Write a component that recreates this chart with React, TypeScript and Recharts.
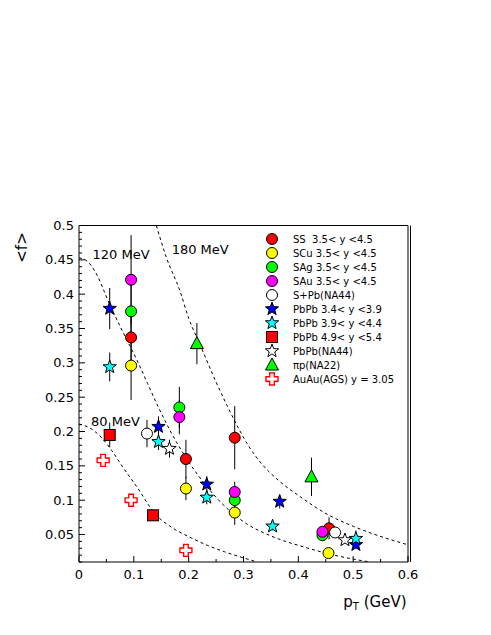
import { ComposedChart, Scatter, Line, XAxis, YAxis, ErrorBar, ReferenceLine, ReferenceDot, Legend } from 'recharts'

type Pt = { x: number; y: number; e: number }

// measured points (pT in GeV, <f>, error)
const SS: Pt[] = [
  { x: 0.095, y: 0.337, e: 0.04 }, { x: 0.195, y: 0.16, e: 0.028 },
  { x: 0.284, y: 0.191, e: 0.046 }, { x: 0.456, y: 0.059, e: 0.016 },
]
const SCU: Pt[] = [
  { x: 0.095, y: 0.296, e: 0.05 }, { x: 0.195, y: 0.117, e: 0.017 },
  { x: 0.284, y: 0.082, e: 0.018 }, { x: 0.455, y: 0.023, e: 0.005 },
]
const SAG: Pt[] = [
  { x: 0.095, y: 0.375, e: 0.04 }, { x: 0.183, y: 0.235, e: 0.03 },
  { x: 0.284, y: 0.1, e: 0.015 }, { x: 0.444, y: 0.049, e: 0.008 },
]
const SAU: Pt[] = [
  { x: 0.095, y: 0.421, e: 0.065 }, { x: 0.183, y: 0.221, e: 0.025 },
  { x: 0.284, y: 0.112, e: 0.015 }, { x: 0.444, y: 0.054, e: 0.008 },
]
const SPB: Pt[] = [{ x: 0.124, y: 0.197, e: 0.02 }, { x: 0.467, y: 0.053, e: 0.006 }]
const PB34: Pt[] = [
  { x: 0.056, y: 0.379, e: 0.03 }, { x: 0.145, y: 0.207, e: 0.015 },
  { x: 0.233, y: 0.123, e: 0.012 }, { x: 0.366, y: 0.098, e: 0.01 },
  { x: 0.505, y: 0.035, e: 0.006 },
]
const PB39: Pt[] = [
  { x: 0.056, y: 0.294, e: 0.021 }, { x: 0.145, y: 0.185, e: 0.012 },
  { x: 0.233, y: 0.104, e: 0.01 }, { x: 0.353, y: 0.062, e: 0.006 },
  { x: 0.505, y: 0.044, e: 0.012 },
]
const PB49: Pt[] = [{ x: 0.056, y: 0.195, e: 0.018 }, { x: 0.135, y: 0.078, e: 0.006 }]
const PBNA44: Pt[] = [{ x: 0.165, y: 0.175, e: 0.013 }, { x: 0.485, y: 0.042, e: 0.005 }]
const PIP: Pt[] = [{ x: 0.215, y: 0.328, e: 0.03 }, { x: 0.424, y: 0.134, e: 0.028 }]
const AUAU: Pt[] = [{ x: 0.044, y: 0.158, e: 0 }, { x: 0.095, y: 0.1, e: 0 }, { x: 0.195, y: 0.027, e: 0 }]

// dashed temperature curves
const CURVE_80 = [
  { x: 0, y: 0.211 }, { x: 0.02, y: 0.205 }, { x: 0.04, y: 0.192 }, { x: 0.06, y: 0.172 },
  { x: 0.08, y: 0.148 }, { x: 0.105, y: 0.12 }, { x: 0.14, y: 0.079 }, { x: 0.17, y: 0.06 },
  { x: 0.205, y: 0.045 }, { x: 0.235, y: 0.034 }, { x: 0.265, y: 0.025 }, { x: 0.3, y: 0.016 },
  { x: 0.325, y: 0.01 },
]
const CURVE_120 = [
  { x: 0, y: 0.453 }, { x: 0.015, y: 0.448 }, { x: 0.03, y: 0.432 }, { x: 0.056, y: 0.385 },
  { x: 0.08, y: 0.345 }, { x: 0.105, y: 0.305 }, { x: 0.125, y: 0.27 }, { x: 0.145, y: 0.235 },
  { x: 0.165, y: 0.203 }, { x: 0.195, y: 0.162 }, { x: 0.233, y: 0.12 }, { x: 0.27, y: 0.088 },
  { x: 0.305, y: 0.066 }, { x: 0.35, y: 0.048 }, { x: 0.414, y: 0.031 }, { x: 0.46, y: 0.021 },
  { x: 0.53, y: 0.01 },
]
const CURVE_180 = [
  { x: 0.141, y: 0.5 }, { x: 0.16, y: 0.452 }, { x: 0.184, y: 0.405 }, { x: 0.2, y: 0.365 },
  { x: 0.22, y: 0.328 }, { x: 0.25, y: 0.272 }, { x: 0.27, y: 0.238 }, { x: 0.29, y: 0.206 },
  { x: 0.31, y: 0.178 }, { x: 0.33, y: 0.156 }, { x: 0.365, y: 0.128 }, { x: 0.4, y: 0.107 },
  { x: 0.456, y: 0.078 }, { x: 0.5, y: 0.062 }, { x: 0.547, y: 0.048 }, { x: 0.6, y: 0.035 },
]
const CURVE_LABELS = [
  { x: 0.0246, y: 0.458, text: '120 MeV' },
  { x: 0.169, y: 0.465, text: '180 MeV' },
  { x: 0.022, y: 0.214, text: '80 MeV' },
]

const X_TICKS = [0, 0.1, 0.2, 0.3, 0.4, 0.5, 0.6]
const X_MINOR = [0.05, 0.15, 0.25, 0.35, 0.45, 0.55]
const Y_TICKS = [0.05, 0.1, 0.15, 0.2, 0.25, 0.3, 0.35, 0.4, 0.45, 0.5]
const Y_MINOR: number[] = []
for (let i = 1; i < 50; i++) if (i % 5 !== 0) Y_MINOR.push(i / 100)

type Kind = 'circle' | 'star' | 'square' | 'triangle' | 'cross'

const SERIES: { name: string; data: Pt[]; kind: Kind; fill: string }[] = [
  { name: 'SS  3.5< y <4.5', data: SS, kind: 'circle', fill: '#ff0000' },
  { name: 'SCu 3.5< y <4.5', data: SCU, kind: 'circle', fill: '#ffff00' },
  { name: 'SAg 3.5< y <4.5', data: SAG, kind: 'circle', fill: '#00ff00' },
  { name: 'SAu 3.5< y <4.5', data: SAU, kind: 'circle', fill: '#ff00ff' },
  { name: 'S+Pb(NA44)', data: SPB, kind: 'circle', fill: '#ffffff' },
  { name: 'PbPb 3.4< y <3.9', data: PB34, kind: 'star', fill: '#0000ff' },
  { name: 'PbPb 3.9< y <4.4', data: PB39, kind: 'star', fill: '#00ffff' },
  { name: 'PbPb 4.9< y <5.4', data: PB49, kind: 'square', fill: '#ff0000' },
  { name: 'PbPb(NA44)', data: PBNA44, kind: 'star', fill: '#ffffff' },
  { name: 'πp(NA22)', data: PIP, kind: 'triangle', fill: '#00ff00' },
  { name: 'AuAu(AGS) y = 3.05', data: AUAU, kind: 'cross', fill: '#ff0000' },
]

const ALL_POINTS = SERIES.flatMap(s => s.data)
const FONT = '"DejaVu Sans", "Liberation Sans", Arial, sans-serif'

function starPoints(cx: number, cy: number, R: number, r: number) {
  const pts: string[] = []
  for (let i = 0; i < 10; i++) {
    const a = -Math.PI / 2 + (i * Math.PI) / 5
    const rad = i % 2 === 0 ? R : r
    pts.push(`${cx + rad * Math.cos(a)},${cy + rad * Math.sin(a)}`)
  }
  return pts.join(' ')
}

function Marker({ kind, cx, cy, fill }: { kind: Kind; cx: number; cy: number; fill: string }) {
  if (cx == null || cy == null) return null
  switch (kind) {
    case 'circle':
      return <circle cx={cx} cy={cy} r={5.5} fill={fill} stroke="#000" strokeWidth={1} />
    case 'square':
      return <rect x={cx - 5.5} y={cy - 5.5} width={11} height={11} fill={fill} stroke="#000" strokeWidth={1} />
    case 'star':
      return <polygon points={starPoints(cx, cy, 7, 2.9)} fill={fill} stroke="#000" strokeWidth={1} />
    case 'triangle':
      return <polygon points={`${cx},${cy - 7} ${cx + 6.5},${cy + 5} ${cx - 6.5},${cy + 5}`} fill={fill} stroke="#000" strokeWidth={1} />
    case 'cross': {
      const a = 2.3, L = 6
      const p = [
        [cx - a, cy - L], [cx + a, cy - L], [cx + a, cy - a], [cx + L, cy - a], [cx + L, cy + a], [cx + a, cy + a],
        [cx + a, cy + L], [cx - a, cy + L], [cx - a, cy + a], [cx - L, cy + a], [cx - L, cy - a], [cx - a, cy - a],
      ]
      return <polygon points={p.map(q => q.join(',')).join(' ')} fill="#fff" stroke={fill} strokeWidth={1.4} />
    }
  }
  return null
}

function LegendBox() {
  return (
    <div style={{ fontFamily: FONT, fontSize: 10, color: '#000' }}>
      {SERIES.map(s => (
        <div key={s.name} style={{ height: 14, display: 'flex', alignItems: 'center' }}>
          <svg width={16} height={14} style={{ overflow: 'visible' }}>
            <Marker kind={s.kind} cx={8} cy={7} fill={s.fill} />
          </svg>
          <span style={{ marginLeft: 13, whiteSpace: 'pre' }}>{s.name}</span>
        </div>
      ))}
    </div>
  )
}

export default function App() {
  return (
    <div style={{ position: 'absolute', left: 0, top: 0, background: '#fff' }}>
      <ComposedChart width={491} height={635} margin={{ top: 225.5, right: 83, bottom: 43, left: 19 }}>
        <XAxis
          type="number" dataKey="x" domain={[0, 0.6]} ticks={X_TICKS} interval={0} height={30}
          tickLine={false} tickSize={0} tickMargin={8} axisLine={{ stroke: '#000' }}
          tick={{ fill: '#000', fontSize: 13, fontFamily: FONT }}
          label={{
            content: (p: any) => {
              const vb = p.viewBox
              return (
                <text x={vb.x + vb.width - 1.5} y={vb.y + 44.5} textAnchor="end" fontFamily={FONT} fontSize={15} fill="#000">
                  p<tspan fontSize={10} dy={3}>T</tspan><tspan dy={-3}> (GeV)</tspan>
                </text>
              )
            },
          }}
        />
        <YAxis
          type="number" dataKey="y" domain={[0.01, 0.5]} ticks={Y_TICKS} interval={0} width={60}
          tickLine={false} tickSize={0} tickMargin={5} axisLine={{ stroke: '#000' }}
          tick={{ fill: '#000', fontSize: 13, fontFamily: FONT }}
          label={{
            content: (p: any) => {
              const vb = p.viewBox
              const cx = vb.x + 2.5, cy = vb.y + 22
              return (
                <text x={cx} y={cy} transform={`rotate(-90 ${cx} ${cy})`} textAnchor="middle" dominantBaseline="central" fontFamily={FONT} fontSize={15} fill="#000">
                  {'<f>'}
                </text>
              )
            },
          }}
        />

        {/* frame: top line and doubled right edge */}
        <ReferenceLine y={0.5} stroke="#000" />
        <ReferenceLine
          x={0.6}
          shape={(p: any) => (
            <g stroke="#000" strokeWidth={1}>
              <line x1={p.x1} y1={p.y1} x2={p.x2} y2={p.y2} />
              <line x1={p.x1 + 2.5} y1={p.y1} x2={p.x2 + 2.5} y2={p.y2} />
            </g>
          )}
        />

        {/* inward ticks */}
        {Y_TICKS.map(t => (
          <ReferenceLine key={'yt' + t} y={t} shape={(p: any) => {
            const x0 = Math.min(p.x1, p.x2)
            return <line x1={x0} y1={p.y1} x2={x0 + 6} y2={p.y1} stroke="#000" />
          }} />
        ))}
        {Y_MINOR.map(t => (
          <ReferenceLine key={'ym' + t} y={t} shape={(p: any) => {
            const x0 = Math.min(p.x1, p.x2)
            return <line x1={x0} y1={p.y1} x2={x0 + 3} y2={p.y1} stroke="#000" />
          }} />
        ))}
        {X_TICKS.map(t => (
          <ReferenceLine key={'xt' + t} x={t} shape={(p: any) => {
            const y0 = Math.max(p.y1, p.y2)
            return <line x1={p.x1} y1={y0} x2={p.x1} y2={y0 - 6} stroke="#000" />
          }} />
        ))}
        {X_MINOR.map(t => (
          <ReferenceLine key={'xm' + t} x={t} shape={(p: any) => {
            const y0 = Math.max(p.y1, p.y2)
            return <line x1={p.x1} y1={y0} x2={p.x1} y2={y0 - 3} stroke="#000" />
          }} />
        ))}

        {[CURVE_80, CURVE_120, CURVE_180].map((c, i) => (
          <Line
            key={'c' + i} data={c} dataKey="y" type="monotone" dot={false} activeDot={false}
            stroke="#000" strokeWidth={1} strokeDasharray="3 3" isAnimationActive={false} legendType="none"
          />
        ))}
        {CURVE_LABELS.map(l => (
          <ReferenceDot
            key={l.text} x={l.x} y={l.y}
            shape={(p: any) => (
              <text x={p.cx} y={p.cy} dominantBaseline="central" fontFamily={FONT} fontSize={13} fill="#000">{l.text}</text>
            )}
          />
        ))}

        {/* error bars first so the markers sit on top */}
        <Scatter data={ALL_POINTS} dataKey="y" shape={() => <g />} isAnimationActive={false} legendType="none">
          <ErrorBar dataKey="e" direction="y" width={0} stroke="#000" strokeWidth={1} isAnimationActive={false} />
        </Scatter>
        {SERIES.map(s => (
          <Scatter
            key={s.name} name={s.name} data={s.data} dataKey="y" isAnimationActive={false}
            shape={(p: any) => <Marker kind={s.kind} cx={p.cx} cy={p.cy} fill={s.fill} />}
          />
        ))}

        <Legend
          layout="vertical" align="center" verticalAlign="middle"
          wrapperStyle={{ left: 264, top: 232, width: 160 }}
          content={() => <LegendBox />}
        />
      </ComposedChart>
    </div>
  )
}
